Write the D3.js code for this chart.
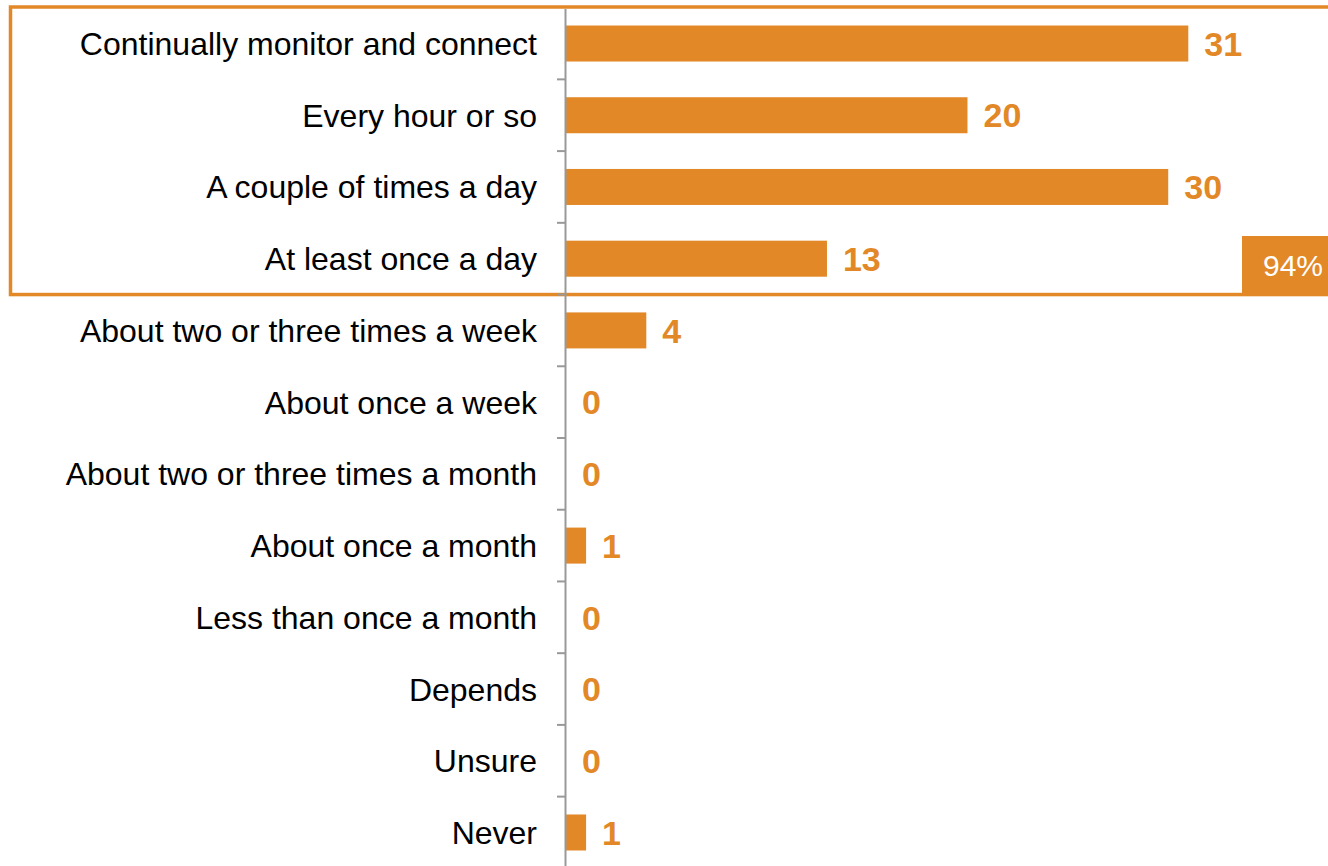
<!DOCTYPE html>
<html>
<head>
<meta charset="utf-8">
<script src="https://cdn.jsdelivr.net/npm/d3@7"></script>
<style>
  html, body { margin: 0; padding: 0; background: #fff; }
  svg { display: block; font-family: "Liberation Sans", Arial, sans-serif; }
</style>
</head>
<body>
<svg id="chart" width="1328" height="866"></svg>
<script>
const categories = [
  "Continually monitor and connect",
  "Every hour or so",
  "A couple of times a day",
  "At least once a day",
  "About two or three times a week",
  "About once a week",
  "About two or three times a month",
  "About once a month",
  "Less than once a month",
  "Depends",
  "Unsure",
  "Never"
];
const values = [31, 20, 30, 13, 4, 0, 0, 1, 0, 0, 0, 1];
const highlightCount = 4;           // first four categories are boxed
const highlightLabel = "94%";

const ORANGE = "#E28826";
const svg = d3.select("#chart");

const y = d3.scaleBand()
  .domain(categories)
  .range([7.65, 868.35])
  .paddingInner(0.498)
  .paddingOuter(0.249);

const axisX = 566;
const x = d3.scaleLinear()
  .domain([0, d3.max(values)])
  .range([axisX, 1188.3]);

const step = y.step();
const boundary = i => y.range()[0] + i * step;

// highlight frame
const frameBottom = boundary(highlightCount);
svg.append("rect")
  .attr("x", 10.5).attr("y", 7)
  .attr("width", 1340).attr("height", frameBottom - 7)
  .attr("fill", "none")
  .attr("stroke", ORANGE)
  .attr("stroke-width", 3.5);

// 94% tag
svg.append("rect")
  .attr("x", 1242).attr("y", 236)
  .attr("width", 100).attr("height", frameBottom - 236)
  .attr("fill", ORANGE);
svg.append("text")
  .attr("x", 1263).attr("y", (236 + frameBottom) / 2)
  .attr("dy", "0.35em")
  .attr("fill", "#fff")
  .attr("font-size", 30)
  .text(highlightLabel);

// bars
svg.selectAll("rect.bar")
  .data(categories)
  .join("rect")
  .attr("class", "bar")
  .attr("x", x(0))
  .attr("y", d => y(d))
  .attr("width", (d, i) => x(values[i]) - x(0))
  .attr("height", y.bandwidth())
  .attr("fill", ORANGE);

// value labels
svg.selectAll("text.val")
  .data(categories)
  .join("text")
  .attr("class", "val")
  .attr("x", (d, i) => x(values[i]) + 16)
  .attr("y", d => y(d) + y.bandwidth() / 2)
  .attr("dy", "0.36em")
  .attr("fill", ORANGE)
  .attr("font-weight", "bold")
  .attr("font-size", 34)
  .text((d, i) => values[i]);

// category labels
svg.selectAll("text.cat")
  .data(categories)
  .join("text")
  .attr("class", "cat")
  .attr("x", 537)
  .attr("y", d => y(d) + y.bandwidth() / 2)
  .attr("dy", "0.36em")
  .attr("text-anchor", "end")
  .attr("fill", "#000")
  .attr("font-size", 32)
  .text(d => d);

// axis line and ticks at band boundaries
svg.append("line")
  .attr("x1", axisX - 0.5).attr("x2", axisX - 0.5)
  .attr("y1", 9).attr("y2", 866)
  .attr("stroke", "#999").attr("stroke-width", 2);

svg.selectAll("line.tick")
  .data(d3.range(1, categories.length))
  .join("line")
  .attr("class", "tick")
  .attr("x1", axisX - 9).attr("x2", axisX - 0.5)
  .attr("y1", i => boundary(i)).attr("y2", i => boundary(i))
  .attr("stroke", "#999").attr("stroke-width", 2);
</script>
</body>
</html>
